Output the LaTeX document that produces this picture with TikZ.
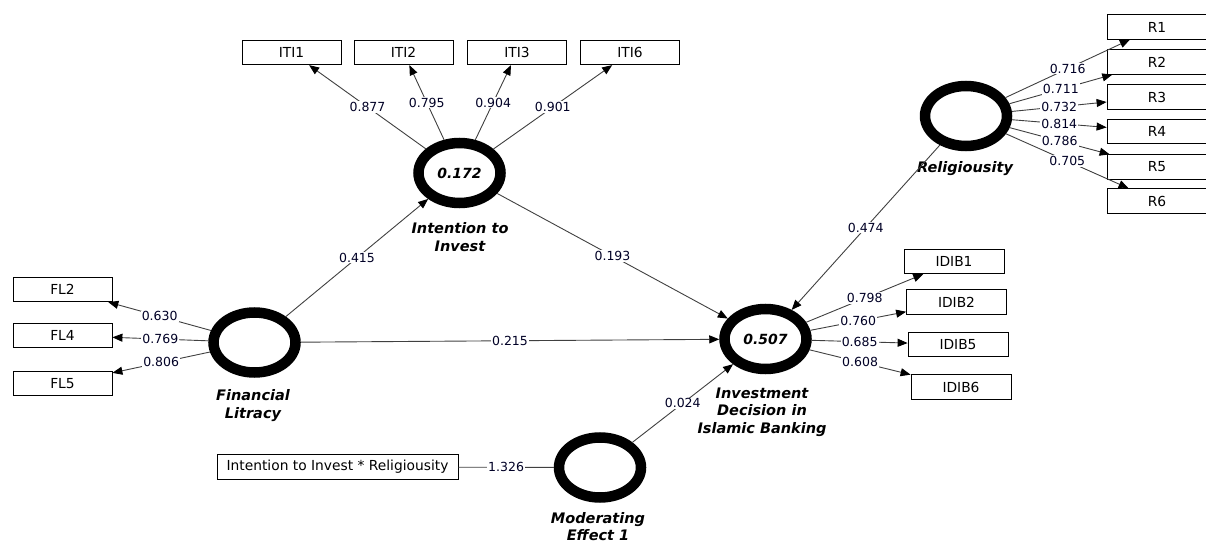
\documentclass[tikz,border=0pt]{standalone}
\usepackage{fontspec}
\setmainfont{DejaVu Sans}
\usetikzlibrary{shapes.geometric,arrows.meta}
\begin{document}
\begin{tikzpicture}[x=1pt,y=-1pt,
  latent/.style={ellipse,draw=black,line width=10.5pt,minimum width=82pt,minimum height=60pt,inner sep=0pt,outer sep=5.25pt,font=\fontsize{14}{15}\selectfont\bfseries\itshape},
  ind/.style={rectangle,draw=black,line width=0.8pt,minimum width=99pt,minimum height=24.5pt,inner sep=2pt,font=\fontsize{13.8}{15}\selectfont},
  lname/.style={align=center,font=\fontsize{14.5}{17.5}\selectfont\bfseries\itshape},
  conn/.style={draw=black!75,line width=0.9pt,-{Triangle[length=10pt,width=8pt,color=black]}},
  plain/.style={draw=black!75,line width=0.9pt},
  val/.style={fill=white,inner sep=1pt,font=\fontsize{12.5}{14}\selectfont,text=black!85!blue}
]
\useasboundingbox (0,0) rectangle (1206,545);
% latent variables
\node[latent] (iti) at (459.5,173) {0.172};
\node[latent] (rel) at (966,116) {};
\node[latent] (fl) at (254.5,342.5) {};
\node[latent] (idib) at (765.5,339) {0.507};
\node[latent] (mod) at (600,467.5) {};
% latent names
\node[lname] (itiname) at (460,237) {Intention to\\Invest};
\node[lname] (relname) at (965,169) {Religiousity};
\node[lname] (flname) at (253,405.5) {Financial\\Litracy};
\node[lname] (idibname) at (762,412) {Investment\\Decision in\\Islamic Banking};
\node[lname] (modname) at (598,526.5) {Moderating\\Effect 1};
% indicators
\node[ind] (iti1) at (291.5,52.5) {ITI1};
\node[ind] (iti2) at (403.5,52.5) {ITI2};
\node[ind] (iti3) at (517,52.5) {ITI3};
\node[ind] (iti6) at (630,52.5) {ITI6};
\node[ind,minimum width=100pt] (r1) at (1157,27) {R1};
\node[ind,minimum width=100pt] (r2) at (1157,62) {R2};
\node[ind,minimum width=100pt] (r3) at (1157,97) {R3};
\node[ind,minimum width=100pt] (r4) at (1157,131.5) {R4};
\node[ind,minimum width=100pt] (r5) at (1157,167) {R5};
\node[ind,minimum width=100pt] (r6) at (1157,201) {R6};
\node[ind] (fl2) at (62.5,289.5) {FL2};
\node[ind] (fl4) at (62.5,335.5) {FL4};
\node[ind] (fl5) at (62.5,383.5) {FL5};
\node[ind,minimum width=100pt] (idib1) at (954,261.5) {IDIB1};
\node[ind,minimum width=100pt] (idib2) at (956.5,302) {IDIB2};
\node[ind,minimum width=100pt] (idib5) at (958,344.5) {IDIB5};
\node[ind,minimum width=100pt] (idib6) at (961,387) {IDIB6};
\node[ind,minimum width=241pt] (inter) at (337.5,467) {Intention to Invest * Religiousity};
% outer loadings
\draw[conn] (iti) -- node[val] {0.877} (iti1);
\draw[conn] (iti) -- node[val] {0.795} (iti2);
\draw[conn] (iti) -- node[val] {0.904} (iti3);
\draw[conn] (iti) -- node[val] {0.901} (iti6);
\draw[conn] (rel) -- node[val] {0.716} (r1);
\draw[conn] (rel) -- node[val] {0.711} (r2);
\draw[conn] (rel) -- node[val] {0.732} (r3);
\draw[conn] (rel) -- node[val] {0.814} (r4);
\draw[conn] (rel) -- node[val] {0.786} (r5);
\draw[conn] (rel) -- node[val] {0.705} (r6);
\draw[conn] (fl) -- node[val] {0.630} (fl2);
\draw[conn] (fl) -- node[val] {0.769} (fl4);
\draw[conn] (fl) -- node[val] {0.806} (fl5);
\draw[conn] (idib) -- node[val] {0.798} (idib1);
\draw[conn] (idib) -- node[val] {0.760} (idib2);
\draw[conn] (idib) -- node[val] {0.685} (idib5);
\draw[conn] (idib) -- node[val] {0.608} (idib6);
% structural paths
\draw[conn] (fl) -- node[val] {0.415} (iti);
\draw[conn] (iti) -- node[val] {0.193} (idib);
\draw[conn] (fl) -- node[val] {0.215} (idib);
\draw[conn] (rel) -- node[val] {0.474} (idib);
\draw[conn] (mod) -- node[val] {0.024} (idib);
\draw[plain] (inter) -- node[val] {1.326} (mod);
\end{tikzpicture}
\end{document}
